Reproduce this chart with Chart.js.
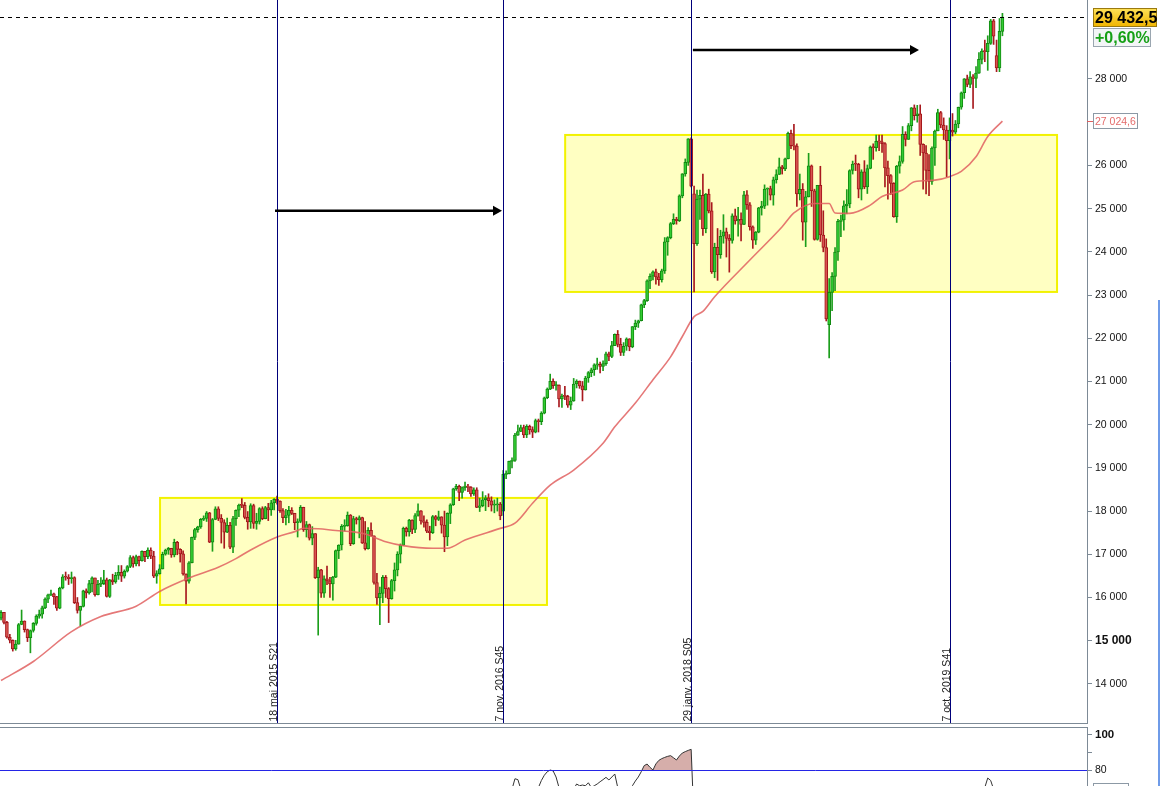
<!DOCTYPE html>
<html>
<head>
<meta charset="utf-8">
<title>Weekly candles</title>
<script src="https://cdn.jsdelivr.net/npm/chart.js@4.4.1/dist/chart.umd.min.js"></script>
<style>
  html, body { margin: 0; padding: 0; background: #fff; overflow: hidden; }
  #wrap { position: relative; width: 1160px; height: 786px; }
  #main { position: absolute; left: 0; top: 0; }
  #osc { position: absolute; left: 0; top: 725px; }
  #strip { position: absolute; left: 1158px; top: 300px; width: 2px; height: 486px; background: #6f9be8; }
</style>
</head>
<body>
<div id="wrap">
  <canvas id="main" width="1160" height="725"></canvas>
  <canvas id="osc" width="1160" height="61"></canvas>
  <div id="strip"></div>
</div>
<script>
// weekly candles, week 0 = 29 juil. 2013
const opens = [
  15521,15658,15425,15081,15010,14810,14922,15376,15452,15258,
  15073,15237,15400,15570,15616,15762,15962,16065,16086,16020,
  15755,16221,16479,16469,16437,16459,15880,15699,15794,16154,
  16104,16322,16453,16066,16303,16323,16412,16027,16409,16361,
  16513,16583,16492,16607,16717,16924,16776,16947,16851,17068,
  16944,17100,16961,16493,16554,16663,17001,17098,17138,16988,
  17280,17113,17009,16544,16380,16805,17391,17573,17635,17810,
  17828,17959,17281,17805,18053,17833,17737,17512,17673,17165,
  17825,18019,18140,18133,17856,17749,18128,17713,17763,18058,
  17826,18080,18025,18191,18273,18232,18011,17849,17899,18016,
  17947,17730,17760,18086,17569,17690,17373,17477,16460,16643,
  16102,16433,16385,16315,16472,17084,17216,17647,17664,17910,
  17245,17824,17798,17848,17265,17128,17553,17425,16347,15988,
  16094,16466,16205,15974,16392,16640,17006,17213,17602,17516,
  17793,17577,17898,18004,17774,17740,17535,17501,17873,17807,
  17865,17675,17400,17949,18147,18517,18571,18432,18543,18577,
  18553,18395,18492,18085,18124,18262,18308,18240,18138,18145,
  18161,18000,18848,18868,19152,19171,19757,19843,19934,19763,
  19964,19886,19827,20094,20071,20269,20624,20822,21005,20903,
  20915,20597,20663,20656,20453,20548,20941,21007,20897,20805,
  21080,21206,21272,21384,21395,21350,21414,21638,21580,21830,
  22093,21858,21675,21814,21988,21798,22268,22350,22405,22774,
  22871,23329,23434,23539,23422,23358,23558,24232,24329,24652,
  24754,24719,25296,25803,26072,26617,25340,24191,25219,25310,
  24538,25336,24946,23533,24103,23933,24361,24463,24311,24263,
  24831,24715,24753,24635,25317,25090,24581,24271,24456,25019,
  25058,25451,25463,25313,25669,25790,25965,25917,26154,26744,
  26458,26447,25340,25444,24688,25271,25989,25413,24286,25538,
  24389,24101,22317,23062,23433,23996,24706,24737,25064,25106,
  25883,26031,26026,25450,25849,25502,25929,26425,26412,26559,
  26543,26505,25942,25764,25586,24815,25984,26090,26719,26600,
  26922,27332,27154,27192,26485,26287,25886,25629,26403,26797,
  27220,26935,26820,26573,26817,26771,26958,27347,27681,28005,
  27876,28051,28015,28135,28455,28645,28634,28824,29348,28540,
  28256,29103
];
const highs = [
  15700,15660,15450,15150,15020,15010,15400,15710,15460,15270,
  15250,15420,15600,15710,15800,15990,16080,16170,16100,16030,
  16240,16530,16590,16530,16590,16480,16000,15800,16170,16200,
  16400,16480,16450,16400,16460,16630,16450,16420,16540,16580,
  16740,16740,16640,16740,16970,16960,16980,16960,17080,17070,
  17150,17150,17070,16620,16760,17050,17120,17160,17140,17350,
  17300,17130,17080,16550,16830,17400,17600,17650,17830,17890,
  17990,17970,17830,18100,18100,17920,17800,17840,17740,17880,
  18030,18160,18290,18200,17990,18170,18160,17950,18080,18100,
  18110,18180,18250,18290,18350,18240,18060,18040,18110,18080,
  17950,17820,18130,18090,17760,17700,17640,17480,16700,16650,
  16500,16730,16470,16490,17100,17220,17690,17800,17980,17920,
  17880,17860,17890,17860,17760,17620,17730,17430,16560,16240,
  16510,16510,16230,16420,16800,17060,17240,17630,17630,17810,
  17800,17940,18170,18010,17890,17800,17650,17900,17900,18000,
  17870,18000,17960,18170,18530,18620,18600,18560,18670,18620,
  18570,18540,18540,18300,18450,18360,18400,18330,18260,18300,
  18200,18940,18930,19160,19230,19800,19990,19990,19990,19999,
  19990,19950,20130,20130,20300,20640,20850,21170,21060,21000,
  20920,20710,20890,20680,20640,21070,21040,21010,21000,21120,
  21230,21310,21410,21540,21450,21480,21680,21680,21930,22100,
  22180,22000,21900,22010,21990,22270,22420,22420,22790,22900,
  23350,23490,23560,23600,23500,23600,24330,24350,24680,24880,
  24800,25320,25810,26150,26620,26640,25520,25430,25430,25800,
  25350,25450,25140,24200,24540,24500,24860,24550,24400,24880,
  24990,25030,24900,25400,25420,25140,24600,24470,25030,25170,
  25550,25480,25520,25730,25900,26170,26000,26170,26770,26820,
  26950,26500,25800,25580,25400,26280,26010,25450,25540,25980,
  24950,24300,23380,23520,24100,24750,24850,25180,25440,25900,
  26100,26240,26050,25900,26110,26010,26450,26500,26700,26700,
  26700,26530,26100,25790,25600,26000,26220,26900,26780,26970,
  27340,27400,27390,27400,26500,26460,26250,26430,26820,27300,
  27250,27100,26920,27100,27200,27040,27350,27700,28010,28090,
  28170,28100,28290,28610,28700,28900,29000,29380,29380,28900,
  29400,29520
];
const lows = [
  15480,15390,15060,14950,14760,14780,14920,15370,15200,14980,
  14720,15200,15360,15520,15520,15740,15880,16040,15840,15700,
  15740,16200,16400,16300,16330,15860,15640,15340,15780,15990,
  16080,16130,16030,16060,16250,16300,16010,16000,16300,16330,
  16420,16370,16450,16590,16690,16700,16730,16730,16840,16830,
  16900,16900,16460,16330,16540,16660,16980,17000,16930,16940,
  16990,16820,16520,15850,16330,16800,17340,17510,17600,17780,
  17760,17270,17070,17800,17780,17260,17140,17500,17130,17040,
  17670,17870,18080,17820,17580,17600,17600,17580,17700,17800,
  17820,17780,17900,18030,18160,17970,17730,17680,17730,17920,
  17570,17400,17730,17530,17400,17330,17220,16440,15130,16000,
  16000,16300,16000,15940,16460,16900,17100,17540,17650,17200,
  17230,17700,17380,17250,17100,17120,17420,16310,15840,15370,
  15880,16000,15420,15960,16150,16500,16800,17200,17420,17420,
  17480,17500,17880,17700,17630,17500,17330,17480,17660,17780,
  17490,17060,17200,17710,18130,18480,18240,18300,18480,18450,
  18340,18360,18080,17990,18100,18010,18100,18000,17960,18000,
  17800,17900,18750,18860,19000,19150,19750,19840,19700,19700,
  19780,19700,19810,19830,20000,20250,20600,20810,20840,20800,
  20410,20400,20580,20400,20350,20540,20850,20840,20550,20800,
  20980,21110,21140,21280,21200,21250,21370,21480,21550,21830,
  21800,21600,21600,21720,21710,21780,22200,22250,22400,22710,
  22850,23150,23350,23250,23220,23300,23500,23920,24300,24630,
  24640,24700,25250,25750,26000,25500,23070,24150,24750,24380,
  24440,24900,23500,23400,23340,23850,24200,23880,23530,24200,
  24640,24360,24250,24630,24980,24500,24080,24170,24440,24850,
  25000,25080,25200,25080,25590,25790,25800,25880,26150,26390,
  26360,25050,25200,24270,24120,25270,25050,24270,24270,24240,
  24000,22400,21545,22640,23100,23800,24350,24500,24880,25020,
  25800,25880,25250,25200,25460,25350,25920,26140,26330,26340,
  26300,25500,25220,25330,24800,24680,25820,26050,26450,26600,
  26800,27050,27000,26230,25450,25340,25300,25560,26000,26800,
  26870,26600,25740,26150,26680,26730,26870,27300,27550,27820,
  27800,27320,27800,28130,28350,28400,28200,28800,28800,28170,
  28170,29000
];
const closes = [
  15658,15425,15081,15010,14810,14922,15376,15452,15258,15073,
  15237,15400,15570,15616,15762,15962,16065,16086,16020,15755,
  16221,16479,16469,16437,16459,15880,15699,15794,16154,16104,
  16322,16453,16066,16303,16323,16412,16027,16409,16361,16513,
  16583,16492,16607,16717,16924,16776,16947,16851,17068,16944,
  17100,16961,16493,16554,16663,17001,17098,17138,16988,17280,
  17113,17009,16544,16380,16805,17391,17573,17635,17810,17828,
  17959,17281,17805,18053,17833,17737,17512,17673,17165,17825,
  18019,18140,18133,17856,17749,18128,17713,17763,18058,17826,
  18080,18025,18191,18273,18232,18011,17849,17899,18016,17947,
  17730,17760,18086,17569,17690,17373,17477,16460,16643,16102,
  16433,16385,16315,16472,17084,17216,17647,17664,17910,17245,
  17824,17798,17848,17265,17128,17553,17425,16347,15988,16094,
  16466,16205,15974,16392,16640,17006,17213,17602,17516,17793,
  17577,17898,18004,17774,17740,17535,17501,17873,17807,17865,
  17675,17400,17949,18147,18517,18571,18432,18543,18577,18553,
  18395,18492,18085,18124,18262,18308,18240,18138,18145,18161,
  17888,18848,18868,19152,19171,19757,19843,19934,19763,19964,
  19886,19827,20094,20071,20269,20624,20822,21005,20903,20915,
  20597,20663,20656,20453,20548,20941,21007,20897,20805,21080,
  21206,21272,21384,21395,21350,21414,21638,21580,21830,22093,
  21858,21675,21814,21988,21798,22268,22350,22405,22774,22871,
  23329,23434,23539,23422,23358,23558,24232,24329,24652,24754,
  24719,25296,25803,26072,26617,25521,24191,25219,25310,24538,
  25336,24946,23533,24103,23933,24361,24463,24311,24263,24831,
  24715,24753,24635,25317,25090,24581,24271,24456,25019,25058,
  25451,25463,25313,25669,25790,25965,25917,26154,26744,26458,
  26447,25340,25444,24688,25271,25989,25413,24286,25538,24389,
  24101,22445,23062,23433,23996,24706,24737,25064,25106,25883,
  26031,26026,25450,25849,25502,25929,26425,26412,26559,26543,
  26505,25942,25764,25586,24815,25984,26090,26719,26600,26922,
  27332,27154,27192,26485,26287,25886,25629,26403,26797,27220,
  26935,26820,26573,26817,26771,26958,27347,27681,28005,27876,
  28051,28015,28135,28455,28645,28634,28824,29348,28990,28256,
  29103,29432
];

// moving average, read at some weeks
const maIdx = [0,11,24,34,46,54,64,74,80,85,94,100,103,108,114,120,124,131,137,147,152,158,
  170,175,181,187,195,205,209,216,222,228,232,236,239,243,255,266,270,277,282,284,289,296,300,
  307,311,318,323,327,332,336,341];
const maVal = [14080,14520,15210,15560,15800,16140,16450,16700,16900,17100,17400,17525,17600,
  17590,17550,17520,17470,17290,17200,17140,17140,17330,17600,17720,18180,18600,18950,19570,
  19950,20500,21040,21570,22040,22500,22620,22960,23810,24580,24900,25120,25120,24900,24890,
  25080,25280,25430,25620,25660,25740,25860,26200,26670,27025];

// oscillator (only the top of it shows)
const oscIdx = [173,174,175,176,177,178,182,183,184,185,186,187,188,189,190,191,
  195,196,197,198,199,200,201,202,203,204,205,206,207,208,209,210,211,
  213,214,215,216,217,218,219,220,221,222,223,224,225,226,227,228,229,230,231,232,233,234,235,236,
  334,335,336,337,338,339];
const oscVal = [64,69,75,74.5,69,64,64,70,74,77,79,80,79.5,76,70,64,
  69,72,71,71.4,71,72.7,70,71,72,73.3,74.5,75.8,74.3,76,77.7,70,65,
  64,68,71,73.7,76,79,82.5,83.4,81.5,80,83.5,85.5,86.5,87.2,87.8,88.2,87,85.7,88,89.7,90.5,91.2,91.8,50,
  64,70,75.4,74,69,64];

const yTicks = [14000,15000,16000,17000,18000,19000,20000,21000,22000,23000,24000,25000,26000,28000];
const oscTicks = [80, 90, 100];

const markerWeeks = [94, 171, 235, 323];
const markerLabels = ['18 mai 2015 S21', '7 nov. 2016 S45', '29 janv. 2018 S05', '7 oct. 2019 S41'];

const lastPrice = 29432.5;
const lastLabel = '29 432,5';
const changeLabel = '+0,60%';
const maLast = 27024.6;
const maLabel = '27 024,6';

// drawings on the chart
const boxes = [
  { i0: 54.15, i1: 185.9, lo: 15828, hi: 18305 },
  { i0: 192.1, i1: 359.6, lo: 23072, hi: 26705 }
];
const arrows = [
  { i0: 93.3, i1: 170.6, v: 24950 },
  { i0: 235.6, i1: 312.6, v: 28672 }
];

const FONT = "'Liberation Sans', Arial, sans-serif";
const X_MIN = -0.354, X_MAX = 369.8;
const AXIS = '#7d8a96';

const fmt = v => String(v).replace(/\B(?=(\d{3})+(?!\d))/g, ' ');

const up = closes.map((c, i) => c >= opens[i]);
const wickData = lows.map((l, i) => ({ x: i, y: [l, highs[i]] }));
const bodyData = opens.map((o, i) => ({ x: i, y: [o, closes[i]] }));
const maData = maIdx.map((w, k) => ({ x: w, y: maVal[k] }));
const oscData = oscIdx.map((w, k) => ({ x: w, y: oscVal[k] }));

function tag(ctx, x, top, w, h, fill, stroke, text, color, font) {
  ctx.fillStyle = fill;
  ctx.fillRect(x, top, w, h);
  ctx.strokeStyle = stroke;
  ctx.lineWidth = 1;
  ctx.strokeRect(x + 0.5, top + 0.5, w - 1, h - 1);
  ctx.fillStyle = color;
  ctx.font = font;
  ctx.textAlign = 'left';
  ctx.textBaseline = 'middle';
  ctx.fillText(text, x + 2, top + h / 2 + 1);
}

const mainDeco = {
  id: 'mainDeco',
  beforeDatasetsDraw(chart) {
    const { ctx, scales: { x, y } } = chart;
    ctx.save();
    boxes.forEach(b => {
      const x0 = x.getPixelForValue(b.i0), x1 = x.getPixelForValue(b.i1);
      const y0 = y.getPixelForValue(b.hi), y1 = y.getPixelForValue(b.lo);
      ctx.fillStyle = '#ffffc2';
      ctx.fillRect(x0, y0, x1 - x0, y1 - y0);
      ctx.strokeStyle = '#f2f200';
      ctx.lineWidth = 2;
      ctx.strokeRect(x0, y0, x1 - x0, y1 - y0);
    });
    ctx.restore();
  },
  afterDatasetsDraw(chart) {
    const { ctx, chartArea: a, scales: { x, y } } = chart;
    ctx.save();
    // last price
    const py = Math.round(y.getPixelForValue(lastPrice)) + 0.5;
    ctx.setLineDash([4, 4]);
    ctx.strokeStyle = '#000';
    ctx.lineWidth = 1;
    ctx.beginPath();
    ctx.moveTo(a.left, py);
    ctx.lineTo(a.right, py);
    ctx.stroke();
    ctx.setLineDash([]);

    // week lines + labels
    markerWeeks.forEach((w, k) => {
      const px = Math.round(x.getPixelForValue(w)) + 0.5;
      ctx.strokeStyle = '#00007a';
      ctx.lineWidth = 1;
      ctx.beginPath();
      ctx.moveTo(px, a.top);
      ctx.lineTo(px, a.bottom);
      ctx.stroke();
      ctx.save();
      ctx.translate(px - 1, a.bottom - 1.5);
      ctx.rotate(-Math.PI / 2);
      ctx.font = '10.5px ' + FONT;
      ctx.fillStyle = '#222';
      ctx.textAlign = 'left';
      ctx.textBaseline = 'alphabetic';
      ctx.fillText(markerLabels[k], 0, 0);
      ctx.restore();
    });

    // arrows
    arrows.forEach(ar => {
      const ay = y.getPixelForValue(ar.v);
      const ax0 = x.getPixelForValue(ar.i0), ax1 = x.getPixelForValue(ar.i1);
      ctx.strokeStyle = '#000';
      ctx.lineWidth = 2.5;
      ctx.beginPath();
      ctx.moveTo(ax0, ay);
      ctx.lineTo(ax1 - 6, ay);
      ctx.stroke();
      ctx.fillStyle = '#000';
      ctx.beginPath();
      ctx.moveTo(ax1, ay);
      ctx.lineTo(ax1 - 9, ay - 5);
      ctx.lineTo(ax1 - 9, ay + 5);
      ctx.closePath();
      ctx.fill();
    });
    ctx.restore();
  },
  afterDraw(chart) {
    const { ctx, chartArea: a, scales: { y } } = chart;
    ctx.save();
    // bottom border
    ctx.strokeStyle = AXIS;
    ctx.lineWidth = 1;
    ctx.beginPath();
    ctx.moveTo(0, a.bottom + 0.5);
    ctx.lineTo(a.right + 1, a.bottom + 0.5);
    ctx.stroke();

    // last price tags
    const cy = y.getPixelForValue(lastPrice);
    const g = ctx.createLinearGradient(0, cy - 9.5, 0, cy + 9.5);
    g.addColorStop(0, '#ffe45c');
    g.addColorStop(1, '#f0b400');
    tag(ctx, 1093, Math.round(cy - 9.5), 64, 19, g, '#9a7a10', lastLabel, '#000', 'bold 16px ' + FONT);
    tag(ctx, 1093, Math.round(cy + 10.5), 58, 19, '#f3f5f7', '#9aa6b0', changeLabel, '#16a016', 'bold 16px ' + FONT);

    // moving average tag
    const my = y.getPixelForValue(maLast);
    ctx.strokeStyle = '#e06060';
    ctx.beginPath();
    ctx.moveTo(a.right, Math.round(my) + 0.5);
    ctx.lineTo(a.right + 6, Math.round(my) + 0.5);
    ctx.stroke();
    tag(ctx, 1093, Math.round(my - 8.5), 45, 16, '#fff', '#8c99a5', maLabel, '#e36b6b', '10.5px ' + FONT);
    ctx.restore();
  }
};

new Chart(document.getElementById('main'), {
  type: 'bar',
  data: {
    datasets: [
      {
        type: 'bar',
        data: wickData,
        barThickness: 1,
        grouped: false,
        backgroundColor: up.map(u => (u ? '#1b9e1b' : '#a8191e')),
        order: 3
      },
      {
        type: 'bar',
        data: bodyData,
        barThickness: 3,
        borderWidth: 1,
        borderSkipped: false,
        minBarLength: 1,
        grouped: false,
        backgroundColor: up.map(u => (u ? '#32cc32' : '#d9534f')),
        borderColor: up.map(u => (u ? '#118a11' : '#a3161b')),
        order: 2
      },
      {
        type: 'line',
        data: maData,
        borderColor: 'rgba(224,96,96,0.85)',
        borderWidth: 1.6,
        pointRadius: 0,
        cubicInterpolationMode: 'monotone',
        order: 1
      }
    ]
  },
  options: {
    responsive: false,
    animation: false,
    layout: { padding: { top: 0, bottom: 2, left: 0, right: 0 } },
    plugins: { legend: { display: false }, tooltip: { enabled: false } },
    scales: {
      x: { type: 'linear', min: X_MIN, max: X_MAX, offset: false, display: false },
      y: {
        position: 'right',
        min: 13096,
        max: 29828,
        afterFit: s => { s.width = 73; s.paddingTop = 0; s.paddingBottom = 0; },
        afterBuildTicks: s => { s.ticks = yTicks.map(v => ({ value: v })); },
        grid: { drawOnChartArea: false, tickLength: 5, color: AXIS, tickColor: AXIS },
        border: { color: AXIS },
        ticks: {
          padding: 3,
          color: '#111',
          callback: v => fmt(v),
          font: c => (c.tick && c.tick.value === 15000
            ? { family: FONT, size: 12, weight: 'bold' }
            : { family: FONT, size: 10.5 })
        }
      }
    }
  },
  plugins: [mainDeco]
});

const oscDeco = {
  id: 'oscDeco',
  afterDatasetsDraw(chart) {
    const { ctx, chartArea: a, scales: { y } } = chart;
    const ly = Math.round(y.getPixelForValue(80)) + 0.5;
    ctx.save();
    ctx.strokeStyle = '#2424e6';
    ctx.lineWidth = 1;
    ctx.beginPath();
    ctx.moveTo(a.left, ly);
    ctx.lineTo(a.right, ly);
    ctx.stroke();
    ctx.restore();
  },
  afterDraw(chart) {
    const { ctx, chartArea: a } = chart;
    ctx.save();
    ctx.strokeStyle = AXIS;
    ctx.lineWidth = 1;
    ctx.beginPath();
    ctx.moveTo(0, a.top + 0.5);
    ctx.lineTo(a.right + 1, a.top + 0.5);
    ctx.stroke();
    ctx.fillStyle = '#fff';
    ctx.fillRect(1093, 58, 35, 6);
    ctx.strokeStyle = '#8c99a5';
    ctx.strokeRect(1093.5, 58.5, 35, 6);
    ctx.restore();
  }
};

new Chart(document.getElementById('osc'), {
  type: 'line',
  data: {
    datasets: [{
      data: oscData,
      borderColor: '#333',
      borderWidth: 1,
      pointRadius: 0,
      fill: { target: { value: 80 }, above: '#d6aeaa', below: 'rgba(0,0,0,0)' }
    }]
  },
  options: {
    responsive: false,
    animation: false,
    layout: { padding: { top: 2, bottom: 0, left: 0, right: 0 } },
    plugins: { legend: { display: false }, tooltip: { enabled: false } },
    scales: {
      x: { type: 'linear', min: X_MIN, max: X_MAX, offset: false, display: false },
      y: {
        position: 'right',
        min: 70.86,
        max: 104.57,
        afterFit: s => { s.width = 73; s.paddingTop = 0; s.paddingBottom = 0; },
        afterBuildTicks: s => { s.ticks = oscTicks.map(v => ({ value: v })); },
        grid: { drawOnChartArea: false, tickLength: 5, color: AXIS, tickColor: AXIS },
        border: { color: AXIS },
        ticks: {
          padding: 3,
          color: '#111',
          callback: v => (v === 90 ? '' : String(v)),
          font: c => (c.tick && c.tick.value === 100
            ? { family: FONT, size: 11.5, weight: 'bold' }
            : { family: FONT, size: 10.5 })
        }
      }
    }
  },
  plugins: [oscDeco]
});
</script>
</body>
</html>
